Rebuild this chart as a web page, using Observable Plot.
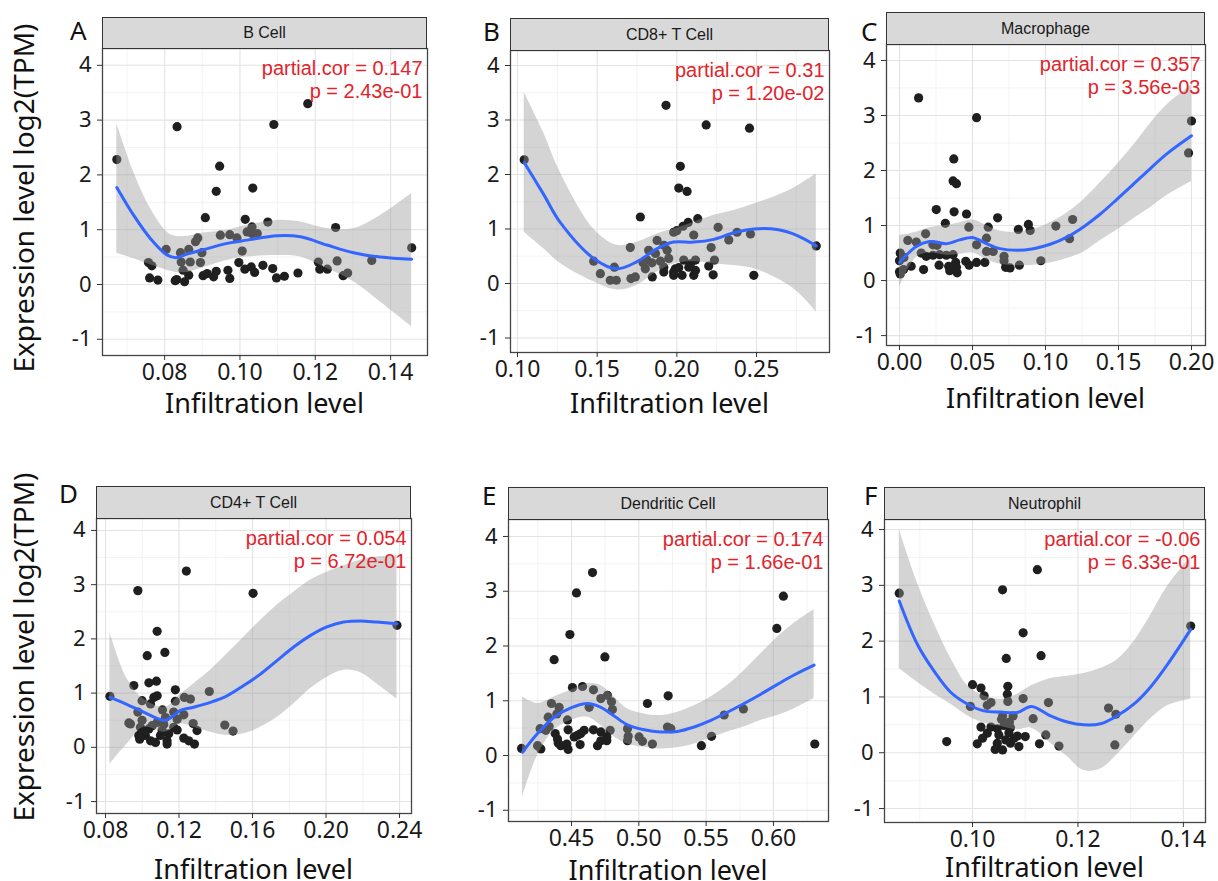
<!DOCTYPE html>
<html>
<head>
<meta charset="utf-8">
<script src="https://cdn.jsdelivr.net/npm/d3@7"></script>
<script src="https://cdn.jsdelivr.net/npm/@observablehq/plot@0.6"></script>
<style>
  html, body { margin: 0; padding: 0; background: #fff; }
  #root { position: relative; width: 1218px; height: 881px; overflow: hidden; background: #fff; font-family: "Noto Sans", sans-serif; color: #1a1a1a; }
  .panel { position: absolute; }
  .strip { position: absolute; box-sizing: border-box; background: #d9d9d9; border: 1px solid #333; display: flex; align-items: center; justify-content: center; font-family: "Liberation Sans", Arial, sans-serif; font-size: 16px; color: #1a1a1a; }
  .letter { position: absolute; font-family: "Noto Sans", sans-serif; font-size: 26px; line-height: 20px; color: #111; }
  .xtitle { position: absolute; font-family: "Noto Sans", sans-serif; font-size: 27px; line-height: 20px; color: #111; text-align: center; white-space: nowrap; }
  .ytitle { position: absolute; font-family: "Noto Sans", sans-serif; font-size: 28px; line-height: 24px; color: #111; white-space: nowrap; transform: translate(-50%, -50%) rotate(-90deg); }
</style>
</head>
<body>
<div id="root"></div>
<script>
// ---------------- DATA ----------------
const panelLetters = ["A", "B", "C", "D", "E", "F"];
const cellTypes = ["B Cell", "CD8+ T Cell", "Macrophage", "CD4+ T Cell", "Dendritic Cell", "Neutrophil"];
const partialCor = ["0.147", "0.31", "0.357", "0.054", "0.174", "-0.06"];
const pValues = ["2.43e-01", "1.20e-02", "3.56e-03", "6.72e-01", "1.66e-01", "6.33e-01"];
const xAxisTitle = "Infiltration level";
const yAxisTitle = "Expression level log2(TPM)";
const yTicks = [-1, 0, 1, 2, 3, 4];

const bCellTicks = [0.08, 0.10, 0.12, 0.14];
const cd8Ticks = [0.10, 0.15, 0.20, 0.25];
const macTicks = [0.00, 0.05, 0.10, 0.15, 0.20];
const cd4Ticks = [0.08, 0.12, 0.16, 0.20, 0.24];
const dcTicks = [0.45, 0.50, 0.55, 0.60];
const neuTicks = [0.10, 0.12, 0.14];

// scatter points [infiltration, expression]
const bCellPts = [[0.0673,2.28],[0.0833,2.88],[0.118,3.30],[0.109,2.92],[0.0946,2.16],[0.0937,1.70],[0.1034,1.76],[0.0908,1.22],[0.1014,1.19],[0.1074,1.14],[0.1254,1.04],[0.1032,1.05],[0.1032,0.93],[0.1019,0.96],[0.1046,0.93],[0.0948,0.90],[0.0973,0.91],[0.0992,0.85],[0.0888,0.85],[0.0882,0.78],[0.0804,0.64],[0.0842,0.58],[0.0864,0.64],[0.0899,0.58],[0.1006,0.61],[0.1456,0.67],[0.0757,0.40],[0.0766,0.34],[0.0868,0.41],[0.0895,0.40],[0.0844,0.41],[0.0997,0.40],[0.1061,0.35],[0.1208,0.41],[0.1258,0.43],[0.135,0.44],[0.076,0.12],[0.0782,0.08],[0.0828,0.07],[0.0853,0.05],[0.0849,0.26],[0.0864,0.17],[0.0902,0.16],[0.0913,0.20],[0.093,0.14],[0.0937,0.24],[0.0968,0.26],[0.0973,0.11],[0.1013,0.28],[0.103,0.32],[0.1039,0.22],[0.1087,0.29],[0.1097,0.12],[0.1118,0.15],[0.1154,0.21],[0.1212,0.28],[0.1232,0.28],[0.1274,0.16],[0.1286,0.21],[0.0832,0.09]];
const cd8Pts = [[0.1042,2.27],[0.1932,3.27],[0.2184,2.91],[0.2456,2.85],[0.2022,2.15],[0.2012,1.75],[0.2064,1.69],[0.1771,1.22],[0.2131,1.19],[0.2071,1.12],[0.2039,1.05],[0.2259,1.03],[0.198,0.94],[0.2106,0.89],[0.2462,0.91],[0.2378,0.94],[0.2326,0.80],[0.1876,0.79],[0.1708,0.66],[0.2875,0.69],[0.2215,0.66],[0.1823,0.61],[0.1939,0.61],[0.1919,0.70],[0.1478,0.41],[0.1608,0.30],[0.152,0.18],[0.1582,0.06],[0.162,0.06],[0.1712,0.09],[0.1739,0.12],[0.1788,0.38],[0.1813,0.43],[0.1844,0.38],[0.1897,0.41],[0.1802,0.27],[0.1846,0.12],[0.1918,0.21],[0.1918,0.30],[0.198,0.21],[0.1991,0.27],[0.198,0.15],[0.2033,0.15],[0.2043,0.43],[0.2085,0.36],[0.2106,0.15],[0.2117,0.24],[0.2117,0.43],[0.22,0.32],[0.2236,0.43],[0.2228,0.16],[0.2483,0.15],[0.2075,0.30],[0.1949,0.46],[0.2012,0.29],[0.1866,0.55],[0.2,0.97]];
const macPts = [[0.0131,3.32],[0.0528,2.96],[0.2,2.90],[0.198,2.32],[0.0372,2.21],[0.0367,1.81],[0.039,1.76],[0.0252,1.29],[0.0374,1.25],[0.0459,1.21],[0.0672,1.14],[0.0314,1.04],[0.1186,1.11],[0.1071,0.99],[0.0883,1.02],[0.0895,0.91],[0.0814,0.93],[0.0608,0.97],[0.0475,0.97],[0.0179,0.85],[0.0057,0.73],[0.0115,0.70],[0.0229,0.65],[0.0257,0.64],[0.1165,0.76],[0.0596,0.77],[0.0528,0.65],[0.0005,0.50],[0.003,0.42],[0,0.36],[0.0149,0.50],[0.0183,0.44],[0.0229,0.46],[0.0275,0.47],[0.0321,0.46],[0.0367,0.47],[0.0596,0.53],[0.0642,0.53],[0.0716,0.44],[0.0716,0.36],[0.0968,0.36],[0,0.16],[0.0028,0.20],[0.008,0.26],[0.0165,0.20],[0.0271,0.28],[0.0337,0.26],[0.0356,0.21],[0.039,0.24],[0.0395,0.14],[0.0344,0.18],[0.0454,0.35],[0.0477,0.28],[0.0528,0.33],[0.0585,0.33],[0.0727,0.24],[0.0757,0.23],[0.0821,0.28],[0.0385,0.33],[0.0005,0.12]];
const cd4Pts = [[0.0824,0.94],[0.124,3.25],[0.0976,2.89],[0.1603,2.84],[0.2386,2.25],[0.1081,2.14],[0.1027,1.69],[0.1123,1.75],[0.1036,1.19],[0.1077,1.22],[0.0954,1.14],[0.118,1.06],[0.1365,1.03],[0.1081,0.95],[0.1063,0.92],[0.0999,0.86],[0.1045,0.80],[0.1229,0.92],[0.1262,0.89],[0.118,0.85],[0.0976,0.65],[0.111,0.69],[0.1171,0.65],[0.1226,0.60],[0.0927,0.45],[0.0936,0.43],[0.0999,0.50],[0.1081,0.46],[0.1117,0.42],[0.1171,0.37],[0.1277,0.44],[0.1298,0.31],[0.1449,0.41],[0.1494,0.30],[0.119,0.32],[0.099,0.37],[0.1036,0.34],[0.0981,0.22],[0.0986,0.15],[0.1017,0.22],[0.1045,0.12],[0.1072,0.09],[0.1099,0.22],[0.1135,0.12],[0.1135,0.06],[0.1226,0.17],[0.1253,0.12],[0.1284,0.06],[0.1008,0.28],[0.1108,0.31],[0.1144,0.25],[0.1054,0.40],[0.1126,0.55],[0.119,0.52]];
const dcPts = [[0.4129,0.13],[0.4656,3.34],[0.4537,2.97],[0.6074,2.91],[0.6025,2.32],[0.4488,2.21],[0.4371,1.75],[0.4748,1.80],[0.4507,1.24],[0.4582,1.26],[0.4663,1.20],[0.5218,1.09],[0.4767,1.10],[0.5064,0.95],[0.4351,0.95],[0.4718,1.04],[0.4797,0.98],[0.4408,0.88],[0.4631,0.88],[0.4327,0.70],[0.4391,0.76],[0.447,0.65],[0.4804,0.84],[0.5634,0.74],[0.5777,0.85],[0.4267,0.49],[0.4309,0.46],[0.4334,0.53],[0.4379,0.40],[0.4475,0.47],[0.4569,0.40],[0.4594,0.46],[0.4663,0.47],[0.4718,0.43],[0.4787,0.46],[0.4916,0.49],[0.4921,0.35],[0.4916,0.27],[0.5002,0.34],[0.5027,0.26],[0.5101,0.21],[0.5213,0.52],[0.5238,0.49],[0.554,0.35],[0.5465,0.18],[0.6307,0.21],[0.4248,0.18],[0.4272,0.12],[0.4396,0.30],[0.4401,0.23],[0.442,0.18],[0.4465,0.21],[0.4475,0.11],[0.452,0.34],[0.4545,0.37],[0.4564,0.20],[0.4693,0.18],[0.4718,0.27],[0.4762,0.27],[0.4762,0.34]];
const neuPts = [[0.0861,2.86],[0.1123,3.28],[0.1057,2.92],[0.1414,2.27],[0.1096,2.15],[0.113,1.74],[0.1064,1.69],[0.10,1.22],[0.1016,1.16],[0.1067,1.19],[0.1066,1.05],[0.1022,1.02],[0.1096,0.97],[0.1067,0.92],[0.1028,0.85],[0.0996,0.83],[0.1035,0.90],[0.1144,0.90],[0.1258,0.80],[0.1272,0.69],[0.1057,0.66],[0.1077,0.66],[0.1115,0.61],[0.1297,0.43],[0.1016,0.46],[0.1035,0.46],[0.1047,0.43],[0.106,0.49],[0.1072,0.45],[0.1028,0.35],[0.1069,0.36],[0.1139,0.32],[0.1085,0.30],[0.11,0.29],[0.0951,0.20],[0.1009,0.16],[0.1019,0.26],[0.1047,0.17],[0.1063,0.23],[0.1043,0.06],[0.1057,0.05],[0.1072,0.17],[0.1088,0.11],[0.1127,0.16],[0.1164,0.12],[0.127,0.14],[0.1079,0.26],[0.105,0.32],[0.1055,0.60],[0.107,0.55]];

// smoothing curve and confidence band
const bCellFitX = [0.0673,0.0718,0.0762,0.0806,0.0830,0.0862,0.0895,0.0966,0.1019,0.1099,0.1161,0.1231,0.1302,0.1373,0.1456];
const bCellFit  = [1.77,1.26,0.84,0.54,0.49,0.56,0.62,0.75,0.81,0.89,0.87,0.72,0.58,0.50,0.46];
const bCellHi   = [2.94,2.05,1.39,0.96,0.88,0.88,0.93,0.99,1.08,1.17,1.14,1.02,1.02,1.26,1.66];
const bCellLo   = [0.57,0.47,0.36,0.26,0.22,0.22,0.29,0.44,0.50,0.53,0.50,0.29,0.05,-0.32,-0.77];

const cd8FitX = [0.1042,0.1163,0.1268,0.1478,0.1624,0.175,0.1876,0.198,0.2106,0.2232,0.2358,0.2483,0.263,0.2756,0.2875];
const cd8Fit  = [2.22,1.64,1.12,0.46,0.27,0.40,0.64,0.76,0.76,0.81,0.93,1.00,0.99,0.88,0.69];
const cd8Hi   = [3.51,2.77,2.04,1.00,0.70,0.76,0.91,1.00,1.12,1.25,1.34,1.46,1.61,1.79,2.01];
const cd8Lo   = [0.94,0.64,0.37,0.03,-0.12,-0.03,0.21,0.36,0.40,0.36,0.33,0.27,0.09,-0.15,-0.52];

const macFitX = [0,0.0115,0.0206,0.0321,0.0413,0.0505,0.0596,0.0688,0.0803,0.0918,0.1032,0.1147,0.1262,0.1376,0.1491,0.1606,0.172,0.1835,0.2];
const macFit  = [0.33,0.62,0.71,0.67,0.74,0.78,0.67,0.58,0.55,0.58,0.66,0.79,0.98,1.21,1.48,1.76,2.04,2.31,2.63];
const macHi   = [0.82,0.88,0.96,1.00,1.05,1.10,1.00,0.90,0.88,0.93,1.05,1.23,1.47,1.78,2.11,2.47,2.86,3.20,3.55];
const macLo   = [-0.12,0.42,0.50,0.46,0.48,0.50,0.38,0.30,0.27,0.28,0.32,0.40,0.52,0.73,0.92,1.13,1.33,1.55,1.80];

const cd4FitX = [0.0824,0.0918,0.1008,0.1126,0.1208,0.128,0.1371,0.1461,0.1552,0.1643,0.1733,0.1824,0.1914,0.2005,0.2096,0.2186,0.2277,0.2386];
const cd4Fit  = [0.92,0.79,0.65,0.50,0.68,0.74,0.83,0.95,1.14,1.35,1.60,1.85,2.06,2.22,2.31,2.33,2.31,2.28];
const cd4Hi   = [2.12,1.26,0.89,0.74,0.98,1.17,1.42,1.72,2.03,2.34,2.62,2.86,3.08,3.23,3.35,3.45,3.51,3.54];
const cd4Lo   = [-0.31,0.06,0.37,0.28,0.43,0.37,0.28,0.22,0.25,0.37,0.55,0.80,1.08,1.29,1.42,1.38,1.17,0.89];

const dcFitX = [0.4136,0.4248,0.4371,0.4495,0.4619,0.4718,0.4817,0.4916,0.504,0.5163,0.5287,0.5411,0.5535,0.5658,0.5782,0.5906,0.603,0.6153,0.6302];
const dcFit  = [0.06,0.40,0.70,0.87,0.95,0.88,0.72,0.56,0.47,0.43,0.44,0.52,0.64,0.79,0.95,1.12,1.30,1.47,1.65];
const dcHi   = [1.07,0.95,1.07,1.19,1.31,1.28,1.07,0.85,0.76,0.73,0.79,0.91,1.07,1.28,1.55,1.86,2.16,2.41,2.66];
const dcLo   = [-0.76,0.00,0.46,0.64,0.70,0.55,0.34,0.21,0.15,0.12,0.14,0.21,0.32,0.43,0.52,0.64,0.73,0.85,1.04];

const neuFitX = [0.0861,0.0896,0.0928,0.0959,0.0991,0.1022,0.1054,0.1085,0.1112,0.1148,0.118,0.1211,0.1243,0.1274,0.1306,0.1337,0.1369,0.1414];
const neuFit  = [2.72,1.93,1.45,1.08,0.87,0.75,0.73,0.72,0.83,0.66,0.55,0.50,0.52,0.66,0.87,1.17,1.57,2.21];
const neuHi   = [4.00,3.03,2.30,1.69,1.20,1.02,0.96,1.05,1.20,1.33,1.37,1.42,1.51,1.66,1.99,2.45,2.97,3.51];
const neuLo   = [1.51,1.26,1.05,0.87,0.66,0.53,0.47,0.41,0.44,0.17,-0.07,-0.32,-0.29,-0.04,0.29,0.60,0.84,0.96];

// ---------------- LAYOUT (pixel geometry of each facet) ----------------
// frame: [left, top, right, bottom]; stripTop; x/y domains matching the picture's scale
const layout = [
  { frame: [102, 48, 427, 355], stripTop: 17, xDomain: [0.0635, 0.1498], yDomain: [-1.296, 4.307], letter: [70, 20], xTitleTop: 393 },
  { frame: [510, 50, 829, 352], stripTop: 18, xDomain: [0.0956, 0.2958], yDomain: [-1.266, 4.275], letter: [483, 21], xTitleTop: 393 },
  { frame: [886, 44, 1205, 345], stripTop: 12, xDomain: [-0.0089, 0.2096], yDomain: [-1.18, 4.29], letter: [861, 21], xTitleTop: 388 },
  { frame: [96, 518, 411, 813], stripTop: 486, xDomain: [0.0751, 0.2465], yDomain: [-1.22, 4.22], letter: [59, 483], xTitleTop: 859 },
  { frame: [508, 519, 828, 821], stripTop: 487, xDomain: [0.4032, 0.6409], yDomain: [-1.205, 4.31], letter: [482, 485], xTitleTop: 860 },
  { frame: [884, 519, 1205, 822], stripTop: 487, xDomain: [0.0833, 0.1442], yDomain: [-1.25, 4.18], letter: [864, 485], xTitleTop: 857 }
];

const seriesPts = [bCellPts, cd8Pts, macPts, cd4Pts, dcPts, neuPts];
const seriesFitX = [bCellFitX, cd8FitX, macFitX, cd4FitX, dcFitX, neuFitX];
const seriesFit = [bCellFit, cd8Fit, macFit, cd4Fit, dcFit, neuFit];
const seriesHi = [bCellHi, cd8Hi, macHi, cd4Hi, dcHi, neuHi];
const seriesLo = [bCellLo, cd8Lo, macLo, cd4Lo, dcLo, neuLo];
const seriesTicks = [bCellTicks, cd8Ticks, macTicks, cd4Ticks, dcTicks, neuTicks];

const root = document.getElementById("root");
const ML = 60, MR = 8, MT = 8, MB = 48;

function minorTicks(ticks, domain) {
  const step = ticks[1] - ticks[0];
  const out = [];
  for (let i = -1; i < ticks.length; i++) {
    const v = ticks[0] + (i + 0.5) * step;
    if (v > domain[0] && v < domain[1]) out.push(v);
  }
  return out;
}

layout.forEach((L, i) => {
  const [fl, ft, fr, fb] = L.frame;
  const fw = fr - fl, fh = fb - ft;
  const pts = seriesPts[i].map(([x, y]) => ({ x, y }));
  const band = seriesFitX[i].map((x, j) => ({ x, fit: seriesFit[i][j], lo: seriesLo[i][j], hi: seriesHi[i][j] }));
  const xt = seriesTicks[i];
  const xMinor = minorTicks(xt, L.xDomain);
  const yMinor = minorTicks(yTicks, L.yDomain);

  const chart = Plot.plot({
    width: fw + ML + MR,
    height: fh + MT + MB,
    marginLeft: ML, marginRight: MR, marginTop: MT, marginBottom: MB,
    x: { domain: L.xDomain },
    y: { domain: L.yDomain },
    style: { fontFamily: "Noto Sans, sans-serif", background: "transparent", overflow: "visible", color: "#1a1a1a" },
    marks: [
      Plot.gridX(xMinor, { stroke: "#f0f0f0", strokeOpacity: 1, strokeWidth: 0.8 }),
      Plot.gridY(yMinor, { stroke: "#f0f0f0", strokeOpacity: 1, strokeWidth: 0.8 }),
      Plot.gridX(xt, { stroke: "#e3e3e3", strokeOpacity: 1, strokeWidth: 1.1 }),
      Plot.gridY(yTicks, { stroke: "#e3e3e3", strokeOpacity: 1, strokeWidth: 1.1 }),
      Plot.dot(pts, { x: "x", y: "y", r: 4.6, fill: "#1f1f1f" }),
      Plot.areaY(band, { x: "x", y1: "lo", y2: "hi", fill: "#999999", fillOpacity: 0.42, curve: "catmull-rom", clip: true }),
      Plot.line(band, { x: "x", y: "fit", stroke: "#3366ff", strokeWidth: 3, curve: "catmull-rom", clip: true }),
      Plot.frame({ stroke: "#444", strokeWidth: 1.3 }),
      Plot.text([`partial.cor = ${partialCor[i]}\np = ${pValues[i]}`], {
        text: d => d, frameAnchor: "top-right", textAnchor: "end", lineAnchor: "top",
        dx: -5, dy: 10, lineHeight: 1.15, fontSize: 20, fill: "#e0242c",
        fontFamily: "Liberation Sans, Arial, sans-serif"
      }),
      Plot.axisX(xt, { tickSize: 5, tickPadding: 3, fontSize: 23, tickFormat: d3.format(".2f"), label: null, stroke: "#333" }),
      Plot.axisY(yTicks, { tickSize: 5, tickPadding: 6, fontSize: 22, tickFormat: d => String(d), label: null, stroke: "#333" })
    ]
  });

  const holder = document.createElement("div");
  holder.className = "panel";
  holder.style.left = (fl - ML) + "px";
  holder.style.top = (ft - MT) + "px";
  holder.appendChild(chart);
  root.appendChild(holder);

  const strip = document.createElement("div");
  strip.className = "strip";
  strip.style.left = fl + "px";
  strip.style.top = L.stripTop + "px";
  strip.style.width = fw + "px";
  strip.style.height = (ft - L.stripTop + 1) + "px";
  strip.textContent = cellTypes[i];
  root.appendChild(strip);

  const letter = document.createElement("div");
  letter.className = "letter";
  letter.style.left = L.letter[0] + "px";
  letter.style.top = L.letter[1] + "px";
  letter.textContent = panelLetters[i];
  root.appendChild(letter);

  const xt2 = document.createElement("div");
  xt2.className = "xtitle";
  xt2.style.left = fl + "px";
  xt2.style.width = fw + "px";
  xt2.style.top = L.xTitleTop + "px";
  xt2.textContent = xAxisTitle;
  root.appendChild(xt2);
});

[[23, 198], [23, 647]].forEach(([cx, cy]) => {
  const t = document.createElement("div");
  t.className = "ytitle";
  t.style.left = cx + "px";
  t.style.top = cy + "px";
  t.textContent = yAxisTitle;
  root.appendChild(t);
});
</script>
</body>
</html>
